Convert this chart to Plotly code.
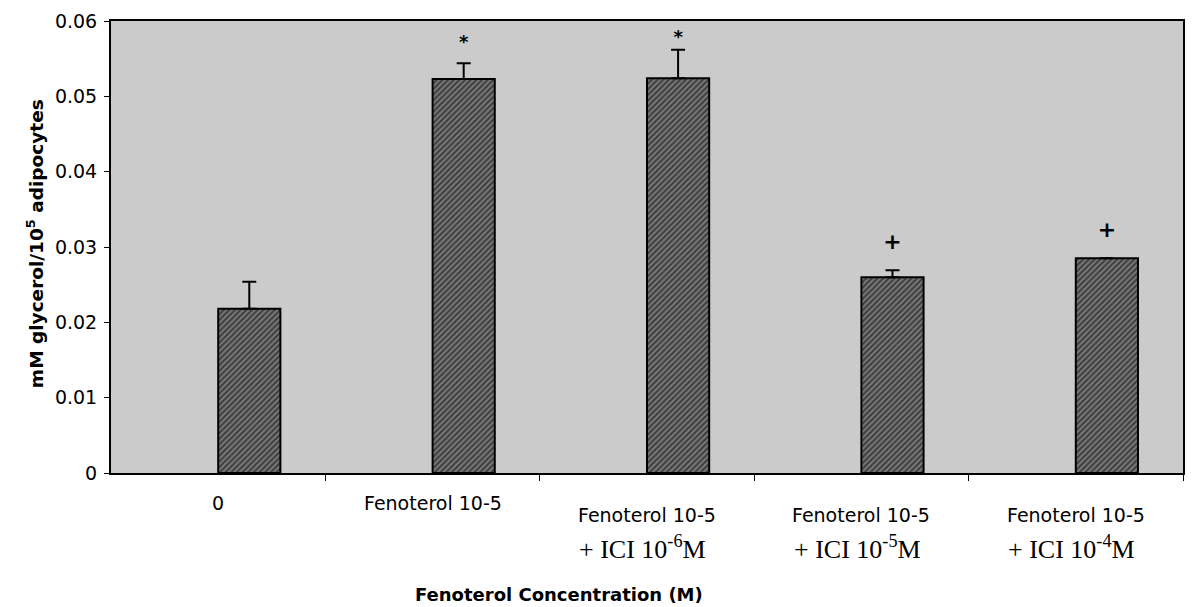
import plotly.graph_objects as go

# Treatment groups (first label line, second label line)
group_labels = ["0", "Fenoterol 10-5", "Fenoterol 10-5", "Fenoterol 10-5", "Fenoterol 10-5"]
group_sublabels = ["", "", "+ ICI 10<sup>-6</sup>M", "+ ICI 10<sup>-5</sup>M", "+ ICI 10<sup>-4</sup>M"]

# Glycerol release (mM glycerol / 10^5 adipocytes) and upper error
glycerol = [0.0218, 0.0523, 0.0524, 0.0260, 0.0285]
glycerol_err = [0.0036, 0.0021, 0.0038, 0.0009, 0.0]

# Significance symbols and their heights
sig_symbols = ["", "*", "*", "+", "+"]
sig_heights = [None, 0.0570, 0.0577, 0.0304, 0.0320]

# Y axis ticks
y_tickvals = [0, 0.01, 0.02, 0.03, 0.04, 0.05, 0.06]
y_ticktext = ["0", "0.01", "0.02", "0.03", "0.04", "0.05", "0.06"]

x_title = "Fenoterol Concentration (M)"
y_title = "mM glycerol/10<sup>5</sup> adipocytes"

# Bars sit just right of each category centre
BAR_OFFSET = 0.0
BAR_WIDTH = 0.29

positions = list(range(len(group_labels)))

fig = go.Figure()

fig.add_trace(go.Bar(
    x=positions,
    y=glycerol,
    offset=BAR_OFFSET,
    width=BAR_WIDTH,
    marker=dict(
        color="#6e6e6e",
        line=dict(color="black", width=2),
        pattern=dict(shape="/", fgcolor="black", bgcolor="#7a7a7a", size=4, solidity=0.5),
    ),
    error_y=dict(
        type="data",
        symmetric=False,
        array=glycerol_err,
        arrayminus=[0] * len(glycerol_err),
        color="black",
        thickness=2,
        width=7,
    ),
    showlegend=False,
))

sig_x = [p + BAR_OFFSET + BAR_WIDTH / 2 for p, s in zip(positions, sig_symbols) if s]
sig_y = [h for h, s in zip(sig_heights, sig_symbols) if s]
sig_t = [s for s in sig_symbols if s]
fig.add_trace(go.Scatter(
    x=sig_x,
    y=sig_y,
    text=sig_t,
    mode="text",
    textposition="middle center",
    textfont=dict(family="DejaVu Sans", size=[18 if t == "*" else 22 for t in sig_t],
                  color="black", weight="bold"),
    showlegend=False,
))

# Category labels under the axis
plot_top_px, plot_h_px = 21, 452
def paper_y(px):
    return (plot_top_px + plot_h_px - px) / plot_h_px

annotations = []
for i, (lab, sub) in enumerate(zip(group_labels, group_sublabels)):
    line1_px = 503 if not sub else 515
    annotations.append(dict(
        x=i, y=paper_y(line1_px), xref="x", yref="paper",
        text=lab, showarrow=False, xanchor="center", yanchor="middle",
        font=dict(family="DejaVu Sans", size=19, color="black"),
    ))
    if sub:
        annotations.append(dict(
            x=i - 0.02, y=paper_y(547), xref="x", yref="paper",
            text=sub, showarrow=False, xanchor="center", yanchor="middle",
            font=dict(family="Liberation Serif", size=26, color="black"),
        ))

annotations.append(dict(
    x=(560 - 111) / 1074, y=paper_y(594), xref="paper", yref="paper",
    text=x_title, showarrow=False, xanchor="center", yanchor="middle",
    font=dict(family="DejaVu Sans", size=18, color="black", weight="bold"),
))
annotations.append(dict(
    x=(35 - 111) / 1074, y=paper_y(244), xref="paper", yref="paper",
    text=y_title, showarrow=False, xanchor="center", yanchor="middle",
    textangle=-90,
    font=dict(family="DejaVu Sans", size=18.5, color="black", weight="bold"),
))

fig.update_layout(
    width=1193,
    height=607,
    margin=dict(l=111, r=8, t=21, b=134),
    paper_bgcolor="white",
    plot_bgcolor="#cbcbcb",
    annotations=annotations,
    xaxis=dict(
        range=[-0.5, len(group_labels) - 0.5],
        tickvals=[p + 0.5 for p in positions],
        showticklabels=False,
        ticks="outside",
        ticklen=6,
        tickwidth=1,
        tickcolor="black",
        showline=True,
        linecolor="black",
        linewidth=2,
        mirror=True,
        showgrid=False,
        zeroline=False,
    ),
    yaxis=dict(
        range=[0, 0.06],
        tickvals=y_tickvals,
        ticktext=y_ticktext,
        ticks="outside",
        ticklen=5,
        tickwidth=1,
        tickcolor="black",
        ticklabelstandoff=3,
        tickfont=dict(family="DejaVu Sans", size=19, color="black"),
        showline=True,
        linecolor="black",
        linewidth=2,
        mirror=True,
        showgrid=False,
        zeroline=False,
    ),
)

fig.write_html("out.html")
